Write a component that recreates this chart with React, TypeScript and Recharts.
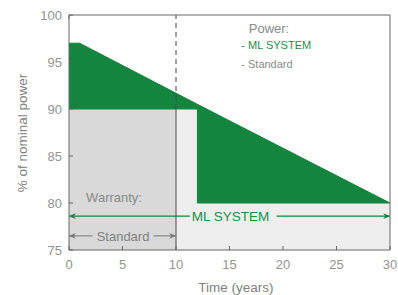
import React from 'react';
import {
  ComposedChart, Area, XAxis, YAxis, ReferenceLine, ReferenceDot,
} from 'recharts';

// ---- data ----
const years = [0, 1, 12, 12, 30];
const mlSystem = [97, 97, 90.5, 90.5, 80];
const standard = [90, 90, 90, 80, 80];

const warrantyYears = [0, 10];
const warrantyLevel = [90, 90];

const xTicks = [0, 5, 10, 15, 20, 25, 30];
const yTicks = [75, 80, 85, 90, 95, 100];

const data = years.map((t, i) => ({ t, ml: mlSystem[i], std: standard[i] }));
const warrantyData = warrantyYears.map((t, i) => ({ t, w: warrantyLevel[i] }));

const GREEN = '#13853f';
const GREEN_TXT = '#1f8c4c';
const BORDER = '#666666';
const TICK_TXT = '#939393';
const FONT = '"Liberation Sans", Arial, Helvetica, sans-serif';

export default function App() {
  return (
    <div style={{ position: 'absolute', left: 0, top: 0, fontFamily: FONT }}>
      <ComposedChart
        width={398}
        height={295}
        data={data}
        margin={{ top: 0, right: 0, bottom: 0, left: 0 }}
      >
        <defs>
          <marker id="arrGreen" viewBox="0 0 10 10" refX="9" refY="5" markerWidth="7" markerHeight="7" orient="auto" markerUnits="userSpaceOnUse">
            <path d="M0,1 L10,5 L0,9 L3,5 Z" fill={GREEN} />
          </marker>
          <marker id="arrGray" viewBox="0 0 10 10" refX="9" refY="5" markerWidth="7" markerHeight="7" orient="auto" markerUnits="userSpaceOnUse">
            <path d="M0,1 L10,5 L0,9 L3,5 Z" fill="#777" />
          </marker>
        </defs>
        <XAxis
          dataKey="t"
          type="number"
          domain={[0, 30]}
          ticks={xTicks}
          interval={0}
          height={45}
          allowDataOverflow
          stroke={BORDER}
          tickSize={-4}
          tickMargin={14}
          tick={{ fill: TICK_TXT, fontSize: 13, fontFamily: FONT }}
          label={{
            content: () => (
              <text x={236} y={292} textAnchor="middle" fill="#808080" fontSize={13.5} fontFamily={FONT}>
                Time (years)
              </text>
            ),
          }}
        />
        <XAxis
          xAxisId="top"
          orientation="top"
          type="number"
          domain={[0, 30]}
          ticks={xTicks}
          interval={0}
          height={15}
          stroke={BORDER}
          tickSize={-4}
          tickFormatter={() => ''}
        />
        <YAxis
          type="number"
          domain={[75, 100]}
          ticks={yTicks}
          interval={0}
          width={69}
          allowDataOverflow
          stroke={BORDER}
          tickSize={-4}
          tickMargin={11}
          tick={{ fill: TICK_TXT, fontSize: 13, fontFamily: FONT }}
          label={{
            content: () => (
              <text
                x={22}
                y={133}
                transform="rotate(-90, 22, 133)"
                textAnchor="middle"
                dominantBaseline="central"
                fill="#808080"
                fontSize={13.5}
                fontFamily={FONT}
              >
                % of nominal power
              </text>
            ),
          }}
        />
        <YAxis
          yAxisId="right"
          orientation="right"
          type="number"
          domain={[75, 100]}
          ticks={yTicks}
          interval={0}
          width={8}
          stroke={BORDER}
          tickSize={-4}
          tickFormatter={() => ''}
        />

        <Area
          dataKey="std"
          type="linear"
          fill="#eeeeee"
          fillOpacity={1}
          stroke="none"
          baseValue={75}
          isAnimationActive={false}
          dot={false}
          activeDot={false}
        />
        <Area
          data={warrantyData}
          dataKey="w"
          type="linear"
          fill="#d9d9d9"
          fillOpacity={1}
          stroke="none"
          baseValue={75}
          isAnimationActive={false}
          dot={false}
          activeDot={false}
        />
        <Area
          dataKey={(d: any) => [d.std, d.ml]}
          type="linear"
          fill={GREEN}
          fillOpacity={1}
          stroke={GREEN}
          strokeWidth={1}
          isAnimationActive={false}
          dot={false}
          activeDot={false}
        />

        <ReferenceLine
          segment={[{ x: 10, y: 90 }, { x: 10, y: 100 }]}
          stroke="#444"
          strokeDasharray="5 4"
          strokeWidth={1}
        />
        <ReferenceLine
          segment={[{ x: 10, y: 75 }, { x: 10, y: 90 }]}
          stroke={BORDER}
          strokeWidth={1.2}
        />

        {/* ML SYSTEM arrow */}
        <ReferenceLine
          segment={[{ x: 11.3, y: 78.6 }, { x: 0.05, y: 78.6 }]}
          stroke={GREEN}
          strokeWidth={1.3}
          markerEnd="url(#arrGreen)"
        />
        <ReferenceLine
          segment={[{ x: 19.4, y: 78.6 }, { x: 29.95, y: 78.6 }]}
          stroke={GREEN}
          strokeWidth={1.3}
          markerEnd="url(#arrGreen)"
        />
        <ReferenceDot
          x={15.1}
          y={78.6}
          r={0}
          fill="none"
          stroke="none"
          label={{ value: 'ML SYSTEM', position: 'center', fill: GREEN_TXT, fontSize: 13.5, fontFamily: FONT }}
        />

        {/* Standard arrow */}
        <ReferenceLine
          segment={[{ x: 2.2, y: 76.5 }, { x: 0.05, y: 76.5 }]}
          stroke="#777"
          strokeWidth={1}
          markerEnd="url(#arrGray)"
        />
        <ReferenceLine
          segment={[{ x: 7.9, y: 76.5 }, { x: 9.95, y: 76.5 }]}
          stroke="#777"
          strokeWidth={1}
          markerEnd="url(#arrGray)"
        />
        <ReferenceDot
          x={5.05}
          y={76.5}
          r={0}
          fill="none"
          stroke="none"
          label={{ value: 'Standard', position: 'center', fill: '#808080', fontSize: 13, fontFamily: FONT }}
        />

        <ReferenceDot
          x={1.6}
          y={80.6}
          r={0}
          fill="none"
          stroke="none"
          label={{ value: 'Warranty:', position: 'right', offset: 0, fill: '#8a8a8a', fontSize: 13, fontFamily: FONT }}
        />

        {/* Legend text */}
        <ReferenceDot
          x={16.8}
          y={98.6}
          r={0}
          fill="none"
          stroke="none"
          label={{ value: 'Power:', position: 'right', offset: 0, fill: '#8a8a8a', fontSize: 13, fontFamily: FONT }}
        />
        <ReferenceDot
          x={16.1}
          y={96.8}
          r={0}
          fill="none"
          stroke="none"
          label={{ value: '- ML SYSTEM', position: 'right', offset: 0, fill: GREEN_TXT, fontSize: 11, fontFamily: FONT }}
        />
        <ReferenceDot
          x={16.1}
          y={94.8}
          r={0}
          fill="none"
          stroke="none"
          label={{ value: '- Standard', position: 'right', offset: 0, fill: '#8a8a8a', fontSize: 11, fontFamily: FONT }}
        />
      </ComposedChart>
    </div>
  );
}
